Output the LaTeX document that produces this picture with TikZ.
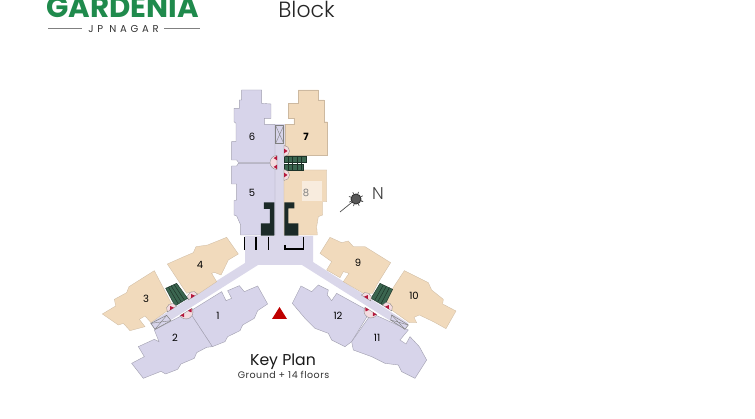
\documentclass[tikz,border=0pt]{standalone}
\usepackage{fontspec}
\setmainfont{Poppins}
\newfontfamily\thinfont{Poppins Light}
\newfontfamily\spacedfont[LetterSpace=37]{Poppins}
\newfontfamily\roomyfont[LetterSpace=5]{Poppins}
\usepackage{xcolor}
\definecolor{lilac}{HTML}{D7D4EA}
\definecolor{lilacpale}{HTML}{DAD7EA}
\definecolor{tanflat}{HTML}{F1DABC}
\definecolor{gardengreen}{HTML}{1F8A4C}
\definecolor{stairgreen}{HTML}{3B6650}
\definecolor{corecolor}{HTML}{1B2A28}
\definecolor{doorpink}{HTML}{F4DCE0}
\definecolor{doorred}{HTML}{B5173C}

\begin{document}
\begin{tikzpicture}[
    x=1pt, y=-1pt,
    wingA/.style={fill=lilac, draw=lilac!75!black, line width=.4pt},
    wingB/.style={fill=tanflat, draw=tanflat!85!black, line width=.3pt},
    passage/.style={fill=lilacpale},
    liftbox/.style={fill=lilac, draw=gray, line width=.5pt},
    stairs/.style={fill=stairgreen, draw=stairgreen!50!black, line width=.4pt},
    tread/.style={draw=stairgreen!50!black, line width=.5pt},
    core/.style={fill=corecolor},
    wall/.style={draw=black, line width=1.1pt},
    number/.style={font=\fontsize{10}{12}\selectfont, inner sep=0pt},
]
\useasboundingbox (0,0) rectangle (755,419);
\fill[white] (0,0) rectangle (755,419);

% --- Podium and corridors ---
\fill[passage] (245,236) -- (313,236) -- (313,262) -- (408,323) -- (405,330) -- (302,265)
    -- (258,265) -- (155,330) -- (150,323) -- (245,263) -- cycle;
\fill[passage] (275,124) rectangle (285,240);

% --- Top wing ---
\begin{scope}[shift={(220,80)}, scale=.3333]
\filldraw[wingA] (65,30) -- (125,30) -- (125,70) -- (153,72) -- (153,115) -- (133,115) -- (133,133)
    -- (165,133) -- (165,247) -- (55,247) -- (50,240) -- (35,240) -- (35,185) -- (48,185) -- (48,130)
    -- (42,125) -- (42,85) -- (58,85) -- (58,60) -- (65,60) -- cycle;
\filldraw[wingA] (35,258) -- (50,258) -- (55,250) -- (165,250) -- (165,465) -- (62,465) -- (62,435)
    -- (50,408) -- (42,405) -- (42,362) -- (50,360) -- (50,312) -- (35,312) -- cycle;
\filldraw[wingB] (235,30) -- (295,30) -- (295,60) -- (312,60) -- (312,125) -- (322,125) -- (322,225)
    -- (195,225) -- (195,133) -- (222,133) -- (222,115) -- (205,115) -- (205,70) -- (235,70) -- cycle;
\filldraw[wingB] (192,270) -- (320,270) -- (320,365) -- (308,365) -- (308,405) -- (295,410)
    -- (290,440) -- (292,465) -- (192,465) -- cycle;
\fill[tanflat!50!white] (247,302) rectangle (307,362);
\filldraw[liftbox] (167,137) rectangle (191,190);
\draw[gray, line width=.4pt] (167,137) -- (191,190) (191,137) -- (167,190);
\filldraw[stairs] (193,228) rectangle (258,248);
\filldraw[stairs] (193,252) rectangle (250,270);
\foreach \sx in {205,218,231,244} \draw[tread] (\sx,228) -- (\sx,270);
\end{scope}

% --- Cores ---
\begin{scope}[shift={(230,195)}, scale=.3333]
\fill[core] (102,22) -- (133,22) -- (133,122) -- (93,122) -- (93,85) -- (120,85) -- (120,42) -- (102,42) -- cycle;
\fill[core] (163,22) -- (193,22) -- (193,40) -- (175,40) -- (175,85) -- (205,85) -- (205,122) -- (163,122) -- cycle;
\foreach \wx in {43,78,115} \draw[wall] (\wx,125) -- (\wx,165);
\draw[wall] (165,150) -- (165,162) -- (220,162) -- (220,125);
\end{scope}

% --- Left wing ---
\begin{scope}[shift={(95,230)}, scale=.3333]
\filldraw[wingA] (380,185) -- (393,212) -- (410,205) -- (398,182) -- (433,167) -- (448,185) -- (488,168)
    -- (518,222) -- (488,242) -- (478,265) -- (443,285) -- (435,302) -- (398,320) -- (390,335) -- (352,350)
    -- (283,245) -- cycle;
\filldraw[wingA] (283,245) -- (352,350) -- (335,352) -- (305,368) -- (298,385) -- (258,402) -- (248,418)
    -- (212,432) -- (198,424) -- (145,445) -- (110,400) -- (148,380) -- (130,350) -- (178,328) -- (192,335)
    -- (178,300) -- cycle;
\filldraw[wingB] (178,122) -- (230,222) -- (220,240) -- (168,278) -- (150,258) -- (133,268) -- (150,290)
    -- (105,302) -- (85,280) -- (70,285) -- (22,252) -- (62,228) -- (58,208) -- (95,188) -- (102,170) -- cycle;
\filldraw[wingB] (217,102) -- (262,82) -- (295,68) -- (303,50) -- (338,45) -- (395,22) -- (430,72)
    -- (400,90) -- (388,115) -- (378,135) -- (358,127) -- (350,130) -- (365,155) -- (305,195) -- (290,185)
    -- (275,190) -- cycle;
\filldraw[stairs] (212,175) -- (245,160) -- (278,205) -- (240,228) -- cycle;
\draw[tread] (228,167) -- (259,216) (220,171) -- (250,222) (237,163) -- (268,210);
\filldraw[liftbox] (168,280) -- (215,256) -- (228,272) -- (180,298) -- cycle;
\draw[gray, line width=.4pt] (168,280) -- (228,272) (215,256) -- (180,298);
\end{scope}

% --- Right wing ---
\begin{scope}[shift={(270,230)}, scale=.3333]
\filldraw[wingA] (93,168) -- (125,185) -- (145,165) -- (175,180) -- (172,195) -- (185,212) -- (200,190)
    -- (300,245) -- (245,335) -- (225,350) -- (185,330) -- (175,310) -- (135,295) -- (105,265) -- (67,220) -- cycle;
\filldraw[wingA] (305,250) -- (415,300) -- (390,330) -- (408,342) -- (420,320) -- (448,350) -- (470,390)
    -- (435,445) -- (395,425) -- (385,405) -- (345,400) -- (305,380) -- (250,360) -- (245,335) -- cycle;
\filldraw[wingB] (180,22) -- (215,38) -- (235,33) -- (250,50) -- (285,50) -- (362,98) -- (322,162)
    -- (308,190) -- (280,190) -- (220,155) -- (237,130) -- (220,125) -- (210,143) -- (170,120) -- (185,95)
    -- (150,70) -- cycle;
\filldraw[wingB] (403,122) -- (475,158) -- (485,180) -- (520,208) -- (518,222) -- (558,243) -- (528,296)
    -- (490,275) -- (448,255) -- (432,262) -- (440,278) -- (418,278) -- (355,233) -- (350,215) -- (365,180) -- cycle;
\filldraw[stairs] (330,160) -- (368,178) -- (343,228) -- (303,205) -- cycle;
\draw[tread] (340,165) -- (314,211) (349,169) -- (323,216) (358,173) -- (333,222);
\filldraw[liftbox] (365,255) -- (415,285) -- (405,298) -- (362,270) -- cycle;
\draw[gray, line width=.4pt] (365,255) -- (405,298) (415,285) -- (362,270);
\end{scope}

% --- Lobby doors ---
\foreach \dx/\dy/\dang in {284/151/0, 284/175/0, 193/297/122, 172/309/122, 366/298/58, 387/308/58} {
  \begin{scope}[shift={(\dx,\dy)}, rotate=\dang]
    \filldraw[fill=doorpink, draw=gray, line width=.3pt] (0,5.5) arc (90:-90:5.5) -- cycle;
    \fill[doorred] (0,2.4) -- (0,-2.4) -- (3.5,0) -- cycle;
  \end{scope}
}
\foreach \dx/\dy/\dang in {277/162.5/180, 186/312/302, 371/311/238} {
  \begin{scope}[shift={(\dx,\dy)}, rotate=\dang]
    \filldraw[fill=doorpink, draw=gray, line width=.3pt] (0,7) arc (90:-90:7) -- cycle;
    \fill[doorred] (0,2.2) -- (0,6.6) -- (3.3,4.4) -- cycle;
    \fill[doorred] (0,-2.2) -- (0,-6.6) -- (3.3,-4.4) -- cycle;
  \end{scope}
}

% --- Flat numbers ---
\node[number] (flat1) at (218,316) {1};
\node[number] (flat2) at (175,338) {2};
\node[number] (flat3) at (146,299) {3};
\node[number] (flat4) at (200,265) {4};
\node[number] (flat5) at (252,193) {5};
\node[number] (flat6) at (252,137) {6};
\node[number] (flat7) at (306,137) {\textbf{7}};
\node[number, text=gray] (flat8) at (306,193) {8};
\node[number] (flat9) at (358,263) {9};
\node[number] (flat10) at (414,296) {10};
\node[number] (flat11) at (377,338) {11};
\node[number] (flat12) at (338,316) {12};

% --- Compass ---
\draw[black!70, line width=.7pt] (340,212) -- (356,199);
\foreach \ang in {20,65,...,380} \draw[black!70, line width=.7pt] (356,199) -- ++(\ang:7.5);
\filldraw[fill=black!65, draw=black!80, line width=.9pt] (356,199) circle (5);
\node[font=\fontsize{17}{19}\thinfont, text=black!75, inner sep=0pt] (north) at (378,194) {N};

% --- Entrance marker ---
\fill[red!75!black] (272,319) -- (287,319) -- (279.5,307) -- cycle;

% --- Titles ---
\node[anchor=base, text=gardengreen, inner sep=0pt, font=\fontsize{29.3}{31}\selectfont\bfseries] (brand) at (122.5,18) {GARDENIA};
\node[anchor=base, text=black!80, inner sep=0pt, font=\fontsize{10}{11}\spacedfont] (place) at (123.5,33) {JP NAGAR};
\coordinate (ruleA) at (48,28.5);
\coordinate (ruleB) at (200,28.5);
\draw[gray, line width=.6pt] (ruleA) -- (82,28.5);
\draw[gray, line width=.6pt] (164,28.5) -- (ruleB);
\node[anchor=base, text=black!85, inner sep=0pt, font=\fontsize{22}{24}\thinfont] (block) at (306.5,17.5) {Block};
\node[anchor=base, text=black!90, inner sep=0pt, font=\fontsize{15.7}{17}\selectfont] (keyplan) at (283,365.5) {Key Plan};
\node[anchor=base, text=black!80, inner sep=0pt, font=\fontsize{9.5}{11}\roomyfont] (floors) at (283.5,379) {Ground + 14 floors};

\end{tikzpicture}
\end{document}
